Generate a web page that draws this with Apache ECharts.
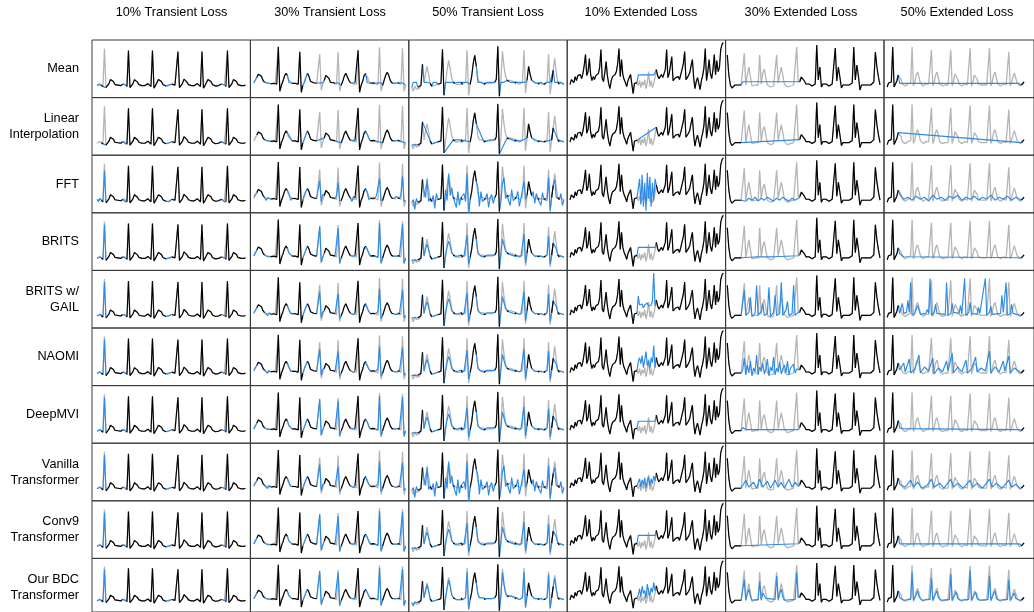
<!DOCTYPE html>
<html><head><meta charset="utf-8">
<script src="https://cdn.jsdelivr.net/npm/echarts@6/dist/echarts.min.js"></script>
<style>html,body{margin:0;padding:0;background:#fff}#c{width:1034px;height:612px}</style>
</head><body><div id="c"></div>
<script>
// ---------- labels ----------
const columnTitles = ['10% Transient Loss','30% Transient Loss','50% Transient Loss','10% Extended Loss','30% Extended Loss','50% Extended Loss'];
const rowLabels = ['Mean','Linear\nInterpolation','FFT','BRITS','BRITS w/\nGAIL','NAOMI','DeepMVI','Vanilla\nTransformer','Conv9\nTransformer','Our BDC\nTransformer'];

// ---------- ground-truth signals (one per column) ----------
const truth1 = [0,1,2,0.5,-1,37,-2,0,2,6,7,4,1,0,0.5,0,0,1.5,2,0.5,-1,35,-2,0,2,6,6.5,3.5,1,0,0,-0.5,0,1.5,2,0.5,-1,35,-2.5,0,2,6,7,4,1,0,-0.5,0,0,0.5,1.5,2,0.5,-1,34,-2,0,2,6.5,7,3.5,1,0,0,-0.5,0,1.5,2,0.5,-1,34,-2.5,0,2,6,7,4,1,0,-0.5,0,0,0,1.5,2,0.5,-1,35,-2,0,2,6,7,4,1,0,0,-0.5,0,0.5];
const truth2 = [0,2,6,9,10,7,3,1,0,-1,0,-0.5,-1,0,0.5,-1,36.5,-8,-2,2,7,10,8,3,1,0,1,0,0.5,-1,31.5,-9,-2,2,7,10,7,2,0,0.5,-0.5,0,-1,29,-7,-1,3,8,9,5,1,0,0.5,0,-1,31,-8,-2,2,7,10,8,3,0.5,0,-0.5,0.5,-1,33,-9,-2,2,8,10,7,2,0,-0.5,0.5,0,0,-1.5,36,-8,-2,3,8,11,8,3,0.5,0,-0.5,0,0.5,0,-1,35,-8,-2];
const truth3 = [1,-3,2,-1,1,0,3,24,6,15,22,14,5,2,1,3,2,4,3,5,39,-7,5,18,28,20,10,6,5,4,5,4,6,4,5,6,38,-7,4,12,25,33,22,10,6,5,6,4,5,7,5,6,5,7,6,9,42,-8,8,37,22,12,8,7,8,6,7,5,6,5,4,5,6,38,-5,8,22,14,8,6,5,6,5,4,5,6,4,5,6,34,-6,6,18,30,16,6,4,5,3,4];
const truth4 = [-7,-2,0,-5,1,-3,2,0,3,-1,4,12,23,2,6,19,3,-3,1,-2,2,0,4,10,28,-1,-4,5,16,2,-6,-11,-3,1,0,3,6,14,29,1,18,3,-2,-5,-9,-3,0,3,2,-16,-6,-4,-5,-8,-3,-10,-4,-8,-2,-11,-5,6,-9,-3,-10,-6,0,8,2,-1,-2,3,0,2,8,28,0,4,12,21,-3,-4,0,2,1,-2,3,5,14,26,-2,0,2,5,12,18,0,-11,-4,0,-2,-12,-3,2,10,29,-3,6,18,4,-1,8,23,3,17,6,10,28,33,35];
const truth5 = [30,10,0,-3,-2,0,-1,0,-1,0,2,32,0,10,18,8,-1,-2,0,-1,0,30,1,12,16,7,0,-1,-2,0,-1,0,30,2,10,18,10,1,-1,-2,0,-1,-1,0,2,38,3,3,8,10,4,1,0,1,0,-1,0,1,40,5,18,-2,1,0,1,0,-1,0,1,2,37,4,18,8,-3,0,1,0,-1,0,0,2,38,5,20,9,-5,0,-1,0,-1,0,-2,0,1,3,33,18,8,0];
const truth6 = [-2,2,0,3,38,-2,-1,4,10,12,6,1,0,-1,0,1,0,2,38,-1,3,10,13,8,2,0,-1,0,1,0,1,2,35,-1,3,10,13,7,1,0,-1,0,0,1,0,2,35,-1,4,11,13,6,1,0,-1,0,1,0,0,2,37,-1,3,10,12,6,1,0,0,-1,0,1,0,2,37,-1,3,10,13,7,1,0,-1,0,1,0,0,2,33,-1,2,8,12,7,2,0,-1,0,1,3];

// ---------- missing samples ----------
const miss1 = [0,1,2,5,18,19,47,48,49,84,85];
const miss2 = [0,1,8,9,10,23,24,33,34,42,43,44,45,54,55,56,64,65,74,75,80,81,82,83,92,93,96,97,98];
const miss3 = [1,2,3,8,9,10,11,14,15,16,22,23,24,25,26,29,30,31,34,35,36,37,43,44,45,46,49,50,52,53,58,59,60,61,64,65,66,69,70,72,73,74,79,80,81,84,85,88,89,90,93,94,97,98];
const gap4 = [53,66];
const gap5 = [10,46];
const gap6 = [9,96];

// ---------- mean imputation level per column ----------
const meanValues = [0.8,0.5,6,2.7,3.3,1.7];

// ---------- transient imputations (values at each missing sample) ----------
const a1   = [0,0.5,1.5,34,1.5,0.5,0,0.5,0.5,1.5,0.5];
const fft1 = [1.5,-1,2.5,30,3,-1,1.5,-1,1,3,-1];
const a2   = [0,1.5,0,-0.5,0,3,1,2,6,-1,30,-6,-1,-1,28,-7,0,0,7,3,0,-1,33,-7,0,0,-1,32,-7];
const b2   = [1,3,1,-2,1,4,0,3,5,1,22,-4,2,0,20,-5,2,-1,5,3,1,2,25,-5,1,-1,2,24,-4];
const fft2 = [2,4,-2,1,3,5,-2,4,3,2,18,-3,4,3,16,-2,-3,2,6,-1,3,4,20,-2,-2,2,4,22,-3];
const a3   = [-2,1,0,6,13,20,13,1,3,2,5,16,25,18,9,4,5,4,5,6,34,-6,10,6,5,6,7,5,5,7,8,33,20,11,8,6,7,5,4,6,34,-4,6,5,6,5,6,6,31,-5,27,15,5,3];
const b3   = [-1,1,0,5,12,17,11,2,3,3,5,14,20,15,8,5,5,5,5,6,26,-3,8,6,5,6,6,5,5,6,7,22,16,10,7,6,6,5,5,6,27,-2,6,5,6,5,6,6,25,-3,20,12,5,4];
const fft3 = [4,-6,5,12,6,25,2,8,-5,10,14,3,30,8,16,-4,12,-2,10,2,30,-12,16,-3,12,2,10,-4,9,0,2,20,26,5,-2,14,3,12,-3,4,22,4,12,0,10,-2,11,3,26,-8,24,6,10,-2];

// ---------- extended imputations ([sample, value] key points) ----------
const fft4 = [[53,-6],[54,14],[55,-12],[56,18],[57,-14],[58,10],[59,-18],[60,20],[61,-6],[62,16],[63,-14],[64,10],[65,-8],[66,14]];
const brits4 = [[53,3],[66,3]];
const gail4 = [[53,12],[54,3],[55,1],[56,4],[57,0],[58,3],[59,1],[60,5],[61,2],[62,4],[63,3],[64,7],[65,35],[66,2]];
const naomi4 = [[53,4],[54,8],[55,2],[56,10],[57,-2],[58,6],[59,14],[60,0],[61,5],[62,-3],[63,8],[64,3],[65,20],[66,-2]];
const deepmvi4 = [[53,2],[66,2]];
const vanilla4 = [[53,-3],[54,2],[55,-6],[56,1],[57,-4],[58,3],[59,-7],[60,0],[61,4],[62,-5],[63,2],[64,-3],[65,5],[66,0]];
const conv4 = [[53,3],[66,3]];
const bdc4 = [[53,-2],[54,5],[55,-4],[56,8],[57,0],[58,3],[59,-5],[60,10],[61,2],[62,-3],[63,6],[64,1],[65,12],[66,3]];

const fft5 = [[10,1],[12,-1],[14,2],[16,0],[18,3],[20,-1],[22,2],[24,0],[26,3],[28,1],[30,-1],[32,2],[34,0],[36,3],[38,1],[40,-1],[42,2],[44,0],[46,2]];
const brits5 = [[10,2],[20,1],[30,1],[46,2]];
const gail5 = [[10,2],[11,25],[12,0],[14,3],[15,18],[16,-1],[18,2],[19,30],[20,0],[22,4],[23,12],[24,0],[26,2],[27,28],[28,-1],[30,3],[31,20],[32,0],[34,2],[35,33],[36,0],[38,5],[39,14],[40,0],[42,2],[43,30],[44,0],[46,3]];
const naomi5 = [[10,3],[11,15],[12,-2],[13,8],[14,0],[15,12],[16,-3],[17,5],[18,1],[19,18],[20,-2],[21,6],[22,2],[23,10],[24,-1],[25,4],[26,14],[27,-3],[28,6],[29,2],[30,16],[31,-2],[32,5],[33,1],[34,11],[35,-1],[36,4],[37,8],[38,0],[39,12],[40,-2],[41,5],[42,3],[43,9],[44,0],[45,4],[46,2]];
const deepmvi5 = [[10,3],[12,1],[46,1]];
const vanilla5 = [[10,2],[12,8],[14,1],[17,6],[19,0],[21,9],[23,1],[26,7],[28,0],[31,8],[33,1],[35,6],[37,0],[40,9],[42,1],[44,6],[46,2]];
const conv5 = [[10,2],[46,2]];
const bdc5 = [[10,2],[11,22],[12,0],[13,7],[14,12],[15,4],[16,0],[20,1],[21,20],[22,0],[23,8],[24,10],[25,2],[26,0],[31,1],[32,26],[33,0],[34,7],[35,12],[36,4],[37,0],[44,1],[45,30],[46,3]];

const fft6 = [[9,6],[12,1],[15,3],[18,0],[21,4],[24,1],[27,3],[30,-1],[33,5],[36,1],[39,3],[42,0],[45,4],[48,2],[51,5],[54,0],[57,3],[60,1],[63,4],[66,0],[69,3],[72,1],[75,5],[78,0],[81,3],[84,1],[87,4],[90,0],[93,3],[96,1]];
const brits6 = [[9,4],[12,1],[96,0]];
const gail6 = [[9,2],[11,12],[12,2],[14,3],[15,15],[16,3],[17,33],[18,0],[20,2],[22,10],[24,1],[28,2],[29,6],[30,2],[31,37],[32,0],[34,3],[35,11],[36,2],[42,1],[43,33],[44,0],[46,2],[47,12],[48,3],[52,2],[53,10],[54,1],[56,37],[57,0],[59,3],[60,13],[61,2],[65,1],[66,8],[67,2],[71,37],[72,0],[74,3],[75,9],[76,1],[82,2],[83,20],[84,3],[86,33],[87,0],[89,2],[90,11],[91,2],[96,0]];
const naomi6 = [[9,3],[12,10],[13,1],[16,14],[17,0],[20,4],[23,18],[24,0],[27,6],[30,2],[33,15],[34,-1],[37,5],[40,1],[43,12],[44,2],[47,20],[48,0],[51,6],[54,1],[57,13],[58,0],[61,4],[64,16],[65,1],[68,5],[71,2],[74,22],[75,0],[78,6],[81,1],[84,12],[85,2],[88,17],[89,0],[92,5],[96,1]];
const deepmvi6 = [[9,3],[11,2],[96,1]];
const vanilla6 = [[9,4],[13,1],[17,8],[19,1],[22,6],[25,0],[29,3],[32,9],[34,1],[38,5],[41,0],[46,9],[48,1],[51,5],[55,0],[60,8],[62,1],[65,5],[69,0],[74,9],[76,1],[79,5],[83,0],[88,8],[90,1],[93,4],[96,0]];
const conv6 = [[9,2],[96,2]];
const bdc6 = [[9,3],[12,0],[17,1],[18,30],[19,0],[21,6],[22,10],[23,4],[25,0],[31,1],[32,24],[33,0],[35,7],[36,10],[37,3],[39,0],[45,1],[46,28],[47,0],[49,6],[50,9],[51,2],[53,0],[59,1],[60,32],[61,0],[63,6],[64,9],[65,2],[67,0],[73,1],[74,26],[75,0],[77,7],[78,10],[79,2],[81,0],[87,1],[88,22],[89,0],[91,5],[92,8],[93,2],[96,0]];

// ---------- assembly ----------
const truths = [truth1,truth2,truth3,truth4,truth5,truth6];
const transientMiss = [miss1,miss2,miss3];
const gaps = [gap4,gap5,gap6];
const modelRows = {
  2:[fft1,fft2,fft3,fft4,fft5,fft6],
  3:[a1,a2,b3,brits4,brits5,brits6],
  4:[a1,b2,b3,gail4,gail5,gail6],
  5:[a1,b2,b3,naomi4,naomi5,naomi6],
  6:[a1,a2,b3,deepmvi4,deepmvi5,deepmvi6],
  7:[a1,b2,fft3,vanilla4,vanilla5,vanilla6],
  8:[a1,a2,b3,conv4,conv5,conv6],
  9:[a1,a2,a3,bdc4,bdc5,bdc6]
};

const cellW = 158.4, cellH = 57.6, left0 = 92, top0 = 40;
const xRange = [[-3.3,102.3],[-2.2,101.1],[-1.9,101.1],[-2.2,120.8],[-1.1,101.6],[-2.3,106.2]];
const yRange = [[-12,45.6],[-14.3,43.3],[-9.3,48.3],[-20,37.6],[-12.6,45],[-12.6,45]];
const GREY = '#b5b5b5', BLACK = '#000000', BLUE = '#2b8be6';
const FONT = "'Liberation Sans', Arial, Helvetica, sans-serif";
const LW = 1.15;

function missingList(c){
  if (c < 3) return transientMiss[c].slice();
  const g = gaps[c-3], out = [];
  for (let i = g[0]; i <= g[1]; i++) out.push(i);
  return out;
}

const grids = [], xAxes = [], yAxes = [], series = [];
for (let r = 0; r < rowLabels.length; r++) {
  for (let c = 0; c < 6; c++) {
    const gi = grids.length;
    grids.push({left: left0 + c*cellW, top: top0 + r*cellH, width: cellW, height: cellH,
      show: true, borderColor: '#3a3a3a', borderWidth: 1, backgroundColor: 'transparent', containLabel: false});
    xAxes.push({gridIndex: gi, type: 'value', min: xRange[c][0], max: xRange[c][1], show: false});
    yAxes.push({gridIndex: gi, type: 'value', min: yRange[c][0], max: yRange[c][1], show: false});
    const t = truths[c];
    const miss = missingList(c);
    const mset = new Set(miss);
    const grey = t.map((v,i)=>[i,v]);
    const black = t.map((v,i)=> mset.has(i) ? [i,'-'] : [i,v]);
    // blue: imputed samples plus the observed samples bordering each gap
    const blue = [];
    t.forEach((v,i) => {
      if (mset.has(i)) return;
      const edge = mset.has(i-1) || mset.has(i+1);
      blue.push(edge ? [i,v] : [i,'-']);
    });
    if (r === 0) {
      miss.forEach(i => blue.push([i, meanValues[c]]));
    } else if (r >= 2) {
      const imp = modelRows[r][c];
      if (c < 3) imp.forEach((v,k) => blue.push([miss[k], v]));
      else imp.forEach(p => blue.push([p[0], p[1]]));
    }
    blue.sort((a,b)=>a[0]-b[0]);
    const base = {type:'line', xAxisIndex: gi, yAxisIndex: gi, showSymbol:false, symbol:'none', silent:true, animation:false, connectNulls:false};
    series.push(Object.assign({}, base, {data: grey, z: 2, lineStyle:{color: GREY, width: LW + 0.15}}));
    series.push(Object.assign({}, base, {data: blue, z: 3, lineStyle:{color: BLUE, width: LW}}));
    series.push(Object.assign({}, base, {data: black, z: 4, lineStyle:{color: BLACK, width: LW}}));
  }
}

const headerCenters = [171.5, 330, 488, 641, 801, 957];
const graphics = [];
columnTitles.forEach((txt,c) => graphics.push({type:'text', x: headerCenters[c], y: 12,
  style:{text: txt, font: '12.7px ' + FONT, fill:'#000', align:'center', verticalAlign:'middle', textAlign:'center', textVerticalAlign:'middle'}}));
rowLabels.forEach((txt,r) => graphics.push({type:'text', x: 79, y: top0 + r*cellH + cellH/2,
  style:{text: txt, font: '12.7px ' + FONT, fill:'#000', lineHeight: 16, align:'right', verticalAlign:'middle', textAlign:'right', textVerticalAlign:'middle'}}));

const chart = echarts.init(document.getElementById('c'), null, {renderer:'canvas'});
chart.setOption({animation:false, backgroundColor:'#ffffff', grid: grids, xAxis: xAxes, yAxis: yAxes, series: series, graphic: graphics});
</script>
</body></html>
